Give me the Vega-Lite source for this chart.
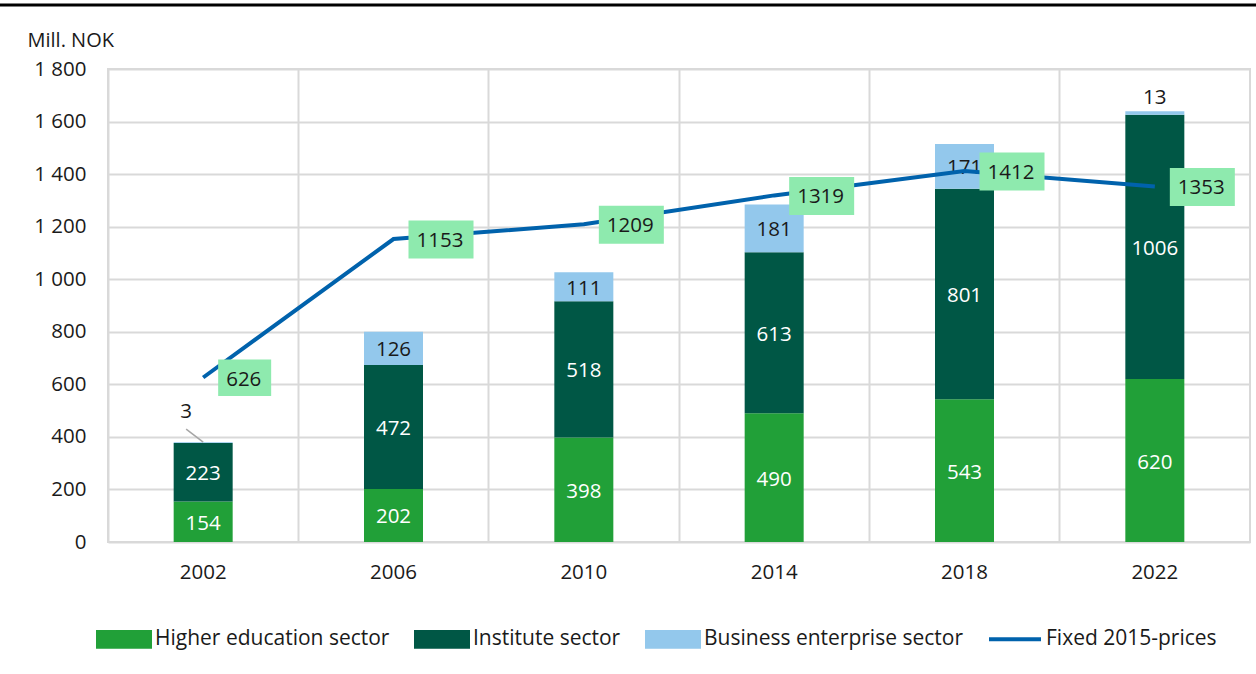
{
  "$schema": "https://vega.github.io/schema/vega-lite/v6.json",
  "width": 1142,
  "height": 473,
  "autosize": {"type": "none"},
  "padding": {"left": 108, "top": 69, "right": 6, "bottom": 132},
  "background": "white",
  "config": {
    "font": "Open Sans",
    "view": {"stroke": "#d9d9d9", "strokeWidth": 2}
  },
  "datasets": {
    "bars": [
      {"year": "2002", "sector": "Higher education sector", "value": 154},
      {"year": "2002", "sector": "Institute sector", "value": 223},
      {"year": "2002", "sector": "Business enterprise sector", "value": 3},
      {"year": "2006", "sector": "Higher education sector", "value": 202},
      {"year": "2006", "sector": "Institute sector", "value": 472},
      {"year": "2006", "sector": "Business enterprise sector", "value": 126},
      {"year": "2010", "sector": "Higher education sector", "value": 398},
      {"year": "2010", "sector": "Institute sector", "value": 518},
      {"year": "2010", "sector": "Business enterprise sector", "value": 111},
      {"year": "2014", "sector": "Higher education sector", "value": 490},
      {"year": "2014", "sector": "Institute sector", "value": 613},
      {"year": "2014", "sector": "Business enterprise sector", "value": 181},
      {"year": "2018", "sector": "Higher education sector", "value": 543},
      {"year": "2018", "sector": "Institute sector", "value": 801},
      {"year": "2018", "sector": "Business enterprise sector", "value": 171},
      {"year": "2022", "sector": "Higher education sector", "value": 620},
      {"year": "2022", "sector": "Institute sector", "value": 1006},
      {"year": "2022", "sector": "Business enterprise sector", "value": 13}
    ],
    "line": [
      {"year": "2002", "series": "Fixed 2015-prices", "fixed": 626},
      {"year": "2006", "series": "Fixed 2015-prices", "fixed": 1153},
      {"year": "2010", "series": "Fixed 2015-prices", "fixed": 1209},
      {"year": "2014", "series": "Fixed 2015-prices", "fixed": 1319},
      {"year": "2018", "series": "Fixed 2015-prices", "fixed": 1412},
      {"year": "2022", "series": "Fixed 2015-prices", "fixed": 1353}
    ]
  },
  "layer": [
    {
      "data": {"name": "bars"},
      "transform": [
        {"calculate": "indexof(['Higher education sector','Institute sector','Business enterprise sector'], datum.sector)", "as": "rank"}
      ],
      "mark": {"type": "bar", "width": {"band": 0.31}},
      "encoding": {
        "x": {
          "field": "year",
          "type": "nominal",
          "scale": {"paddingInner": 0, "paddingOuter": 0},
          "axis": {
            "title": null,
            "labelAngle": 0,
            "labelFontSize": 20.5,
            "labelColor": "#1a1a1a",
            "labelPadding": 20,
            "ticks": false,
            "domain": false,
            "grid": true,
            "gridColor": "#d9d9d9",
            "gridWidth": 2,
            "bandPosition": 0
          }
        },
        "y": {
          "field": "value",
          "type": "quantitative",
          "stack": "zero",
          "scale": {"domain": [0, 1800], "nice": false},
          "axis": {
            "title": "Mill. NOK",
            "titleAngle": 0,
            "titleAlign": "left",
            "titleBaseline": "middle",
            "titleX": -81,
            "titleY": -29,
            "titleFontSize": 20,
            "titleFontWeight": "normal",
            "titleColor": "#1a1a1a",
            "labelFontSize": 20.5,
            "labelColor": "#1a1a1a",
            "labelPadding": 22,
            "ticks": false,
            "domain": false,
            "gridColor": "#d9d9d9",
            "gridWidth": 2,
            "values": [0, 200, 400, 600, 800, 1000, 1200, 1400, 1600, 1800],
            "labelExpr": "replace(format(datum.value, ','), ',', ' ')"
          }
        },
        "color": {
          "field": "sector",
          "type": "nominal",
          "scale": {
            "domain": ["Higher education sector", "Institute sector", "Business enterprise sector", "Fixed 2015-prices"],
            "range": ["#21a038", "#005745", "#93c8ec", "#0062ac"]
          },
          "legend": {
            "orient": "none",
            "legendX": -12,
            "legendY": 542,
            "direction": "horizontal",
            "title": null,
            "labelFontSize": 21,
            "labelColor": "#1a1a1a",
            "labelOffset": 3,
            "labelLimit": 500,
            "columnPadding": 18,
            "symbolSize": 2704,
            "symbolStrokeWidth": 4,
            "symbolOpacity": 1,
            "encode": {
              "symbols": {
                "update": {
                  "shape": {"signal": "datum.value === 'Fixed 2015-prices' ? 'M-1,-0.28M-1,0.28M-1,0H1' : 'M-1,-0.28H1V0.28H-1Z'"},
                  "fill": {"signal": "datum.value === 'Fixed 2015-prices' ? 'transparent' : scale('color', datum.value)"},
                  "stroke": {"signal": "datum.value === 'Fixed 2015-prices' ? '#0062ac' : 'transparent'"},
                  "strokeWidth": {"value": 4},
                  "opacity": {"value": 1}
                }
              }
            }
          }
        },
        "order": {"field": "rank", "type": "quantitative"}
      }
    },
    {
      "data": {"name": "bars"},
      "transform": [
        {"calculate": "indexof(['Higher education sector','Institute sector','Business enterprise sector'], datum.sector)", "as": "rank"},
        {"stack": "value", "groupby": ["year"], "sort": [{"field": "rank", "order": "ascending"}], "as": ["y0", "y1"]},
        {"calculate": "(datum.y0 + datum.y1) / 2", "as": "mid"}
      ],
      "layer": [
        {
          "transform": [{"filter": "datum.sector !== 'Business enterprise sector'"}],
          "mark": {"type": "text", "fontSize": 20.5, "color": "white", "baseline": "middle", "dy": 2},
          "encoding": {
            "x": {"field": "year", "type": "nominal"},
            "y": {"field": "mid", "type": "quantitative"},
            "text": {"field": "value", "type": "quantitative"}
          }
        },
        {
          "transform": [{"filter": "datum.sector === 'Business enterprise sector' && datum.value >= 50"}],
          "mark": {"type": "text", "fontSize": 20.5, "color": "#1a1a1a", "baseline": "middle", "dy": 2},
          "encoding": {
            "x": {"field": "year", "type": "nominal"},
            "y": {"field": "mid", "type": "quantitative"},
            "text": {"field": "value", "type": "quantitative"}
          }
        },
        {
          "transform": [{"filter": "datum.sector === 'Business enterprise sector' && datum.value >= 10 && datum.value < 50"}],
          "mark": {"type": "text", "fontSize": 20.5, "color": "#1a1a1a", "baseline": "middle", "dy": -13},
          "encoding": {
            "x": {"field": "year", "type": "nominal"},
            "y": {"field": "y1", "type": "quantitative"},
            "text": {"field": "value", "type": "quantitative"}
          }
        },
        {
          "transform": [{"filter": "datum.sector === 'Business enterprise sector' && datum.value < 10"}],
          "mark": {"type": "text", "fontSize": 20.5, "color": "#1a1a1a", "baseline": "middle", "dx": -17, "dy": -30},
          "encoding": {
            "x": {"field": "year", "type": "nominal"},
            "y": {"field": "y1", "type": "quantitative"},
            "text": {"field": "value", "type": "quantitative"}
          }
        },
        {
          "transform": [{"filter": "datum.sector === 'Business enterprise sector' && datum.value < 10"}],
          "mark": {"type": "rule", "color": "#a6a6a6", "strokeWidth": 1.5, "x2Offset": -17, "y2Offset": -13},
          "encoding": {
            "x": {"field": "year", "type": "nominal"},
            "x2": {"field": "year"},
            "y": {"field": "y1", "type": "quantitative"},
            "y2": {"field": "y1"}
          }
        }
      ]
    },
    {
      "data": {"name": "line"},
      "mark": {"type": "line", "strokeWidth": 4},
      "encoding": {
        "x": {"field": "year", "type": "nominal"},
        "y": {"field": "fixed", "type": "quantitative"},
        "color": {"field": "series", "type": "nominal"}
      }
    },
    {
      "data": {"name": "line"},
      "mark": {"type": "point", "filled": true, "size": 400, "color": "#8eeaae", "opacity": 1},
      "encoding": {
        "x": {"field": "year", "type": "nominal"},
        "y": {"field": "fixed", "type": "quantitative"},
        "shape": {
          "condition": {"test": "datum.fixed >= 1000", "value": "M1.5,-1.85H8V1.95H1.5Z"},
          "value": "M1.5,-1.8H6.8V1.85H1.5Z"
        }
      }
    },
    {
      "data": {"name": "line"},
      "mark": {"type": "text", "fontSize": 20.5, "color": "#1a1a1a", "align": "left", "baseline": "middle", "dx": 23, "dy": 2},
      "encoding": {
        "x": {"field": "year", "type": "nominal"},
        "y": {"field": "fixed", "type": "quantitative"},
        "text": {"field": "fixed", "type": "quantitative", "format": "d"}
      }
    },
    {
      "data": {"values": [{}]},
      "mark": {"type": "rule", "color": "black", "strokeWidth": 3, "x": -108, "x2": {"expr": "width + 6"}, "yOffset": -64},
      "encoding": {"y": {"datum": 1800, "type": "quantitative"}}
    }
  ]
}
